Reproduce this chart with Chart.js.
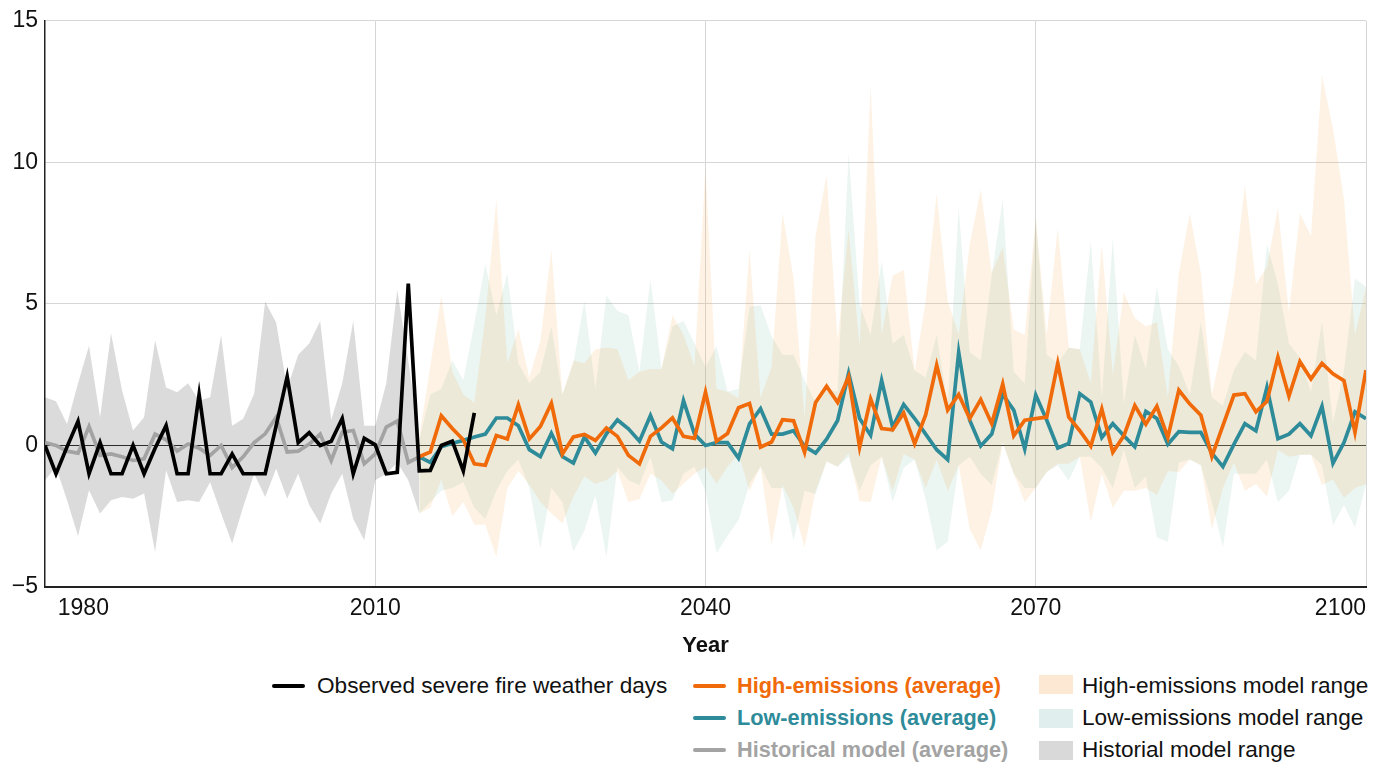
<!DOCTYPE html>
<html><head><meta charset="utf-8">
<script src="https://cdn.jsdelivr.net/npm/chart.js@4.4.1/dist/chart.umd.min.js"></script>
<style>
html,body{margin:0;padding:0;background:#fff;}
#wrap{position:relative;width:1387px;height:765px;font-family:"Liberation Sans",Arial,sans-serif;overflow:hidden;}
#c{position:absolute;left:0;top:0;}
.lg{position:absolute;font-size:22.6px;line-height:26px;white-space:nowrap;color:#111;}
.b{font-weight:bold;font-size:21.7px;}
.ln{position:absolute;height:4px;border-radius:2px;width:33px;}
.sw{position:absolute;width:34px;height:19px;}
</style></head><body>
<div id="wrap">
<canvas id="c" width="1387" height="665"></canvas>
<div class="ln" style="left:272px;top:684px;background:#000;"></div>
<div class="lg" style="left:317px;top:673px;">Observed severe fire weather days</div>
<div class="ln" style="left:693px;top:684px;background:#f06a0a;"></div>
<div class="lg b" style="left:737px;top:673px;color:#f06a0a;">High-emissions (average)</div>
<div class="ln" style="left:693px;top:716px;background:#2e8b9a;"></div>
<div class="lg b" style="left:737px;top:705px;color:#2e8b9a;">Low-emissions (average)</div>
<div class="ln" style="left:693px;top:748px;background:#a3a3a3;"></div>
<div class="lg b" style="left:737px;top:737px;color:#a3a3a3;">Historical model (average)</div>
<div class="sw" style="left:1039px;top:675px;background:#fde9d3;"></div>
<div class="lg" style="left:1082px;top:673px;">High-emissions model range</div>
<div class="sw" style="left:1039px;top:709px;background:#e0efed;"></div>
<div class="lg" style="left:1082px;top:705px;">Low-emissions model range</div>
<div class="sw" style="left:1039px;top:741px;background:#d9d9d9;"></div>
<div class="lg" style="left:1082px;top:737px;">Historial model range</div>
</div>
<script>
// ---- Data ----
const OBS_START = 1980;   // observed 1980-2019
const HIST_START = 1980;  // historical model 1980-2014
const PROJ_START = 2014;  // projections 2014-2100
const X_TICKS = [1980, 2010, 2040, 2070, 2100];
const Y_TICKS = [-5, 0, 5, 10, 15];

const observed = [0, -1, -0.05, 0.85, -1, 0.1, -1, -1, 0, -1,
  -0.1, 0.7, -1, -1, 1.8, -1, -1, -0.3, -1, -1,
  -1, 0.7, 2.43, 0.1, 0.45, 0, 0.15, 0.95, -1, 0.25,
  0.02, -1, -0.95, 5.72, -0.9, -0.88, 0, 0.15, -0.9, 1.15];

const histAvg = [0.1, 0.0, -0.2, -0.27, 0.67, -0.35, -0.3, -0.4, -0.53, -0.47,
  0.4, 0.2, -0.2, 0.05, -0.1, -0.35, 0, -0.78, -0.4, 0.1,
  0.41, 1.0, -0.23, -0.2, 0.05, 0.4, -0.53, 0.47, 0.53, -0.65,
  -0.3, 0.65, 0.86, -0.6, -0.4];
const histUpper = [1.7, 1.56, 0.76, 2.2, 3.52, 1.0, 3.96, 1.94, 0.53, 1.0,
  3.72, 2.05, 1.88, 2.2, 1.58, 1.7, 3.9, 0.7, 0.94, 1.83,
  5.08, 4.34, 2.0, 3.2, 3.6, 4.4, 0.9, 2.2, 4.4, 0.7,
  0.7, 2.2, 5.5, 3.0, 0.2];
const histLower = [-1.23, -0.76, -1.94, -3.2, -1.58, -2.4, -1.94, -1.82, -1.88, -1.7,
  -3.76, -0.88, -2.0, -1.94, -2.0, -1.3, -2.4, -3.46, -2.17, -1.0,
  -1.82, -0.82, -1.88, -1.0, -2.1, -2.76, -1.7, -1.0, -2.6, -3.35,
  -1.23, -1.0, -0.6, -1.23, -2.4];

const highAvg = [-0.4, -0.23, 1.05, 0.6, 0.2, -0.65, -0.7, 0.35, 0.23, 1.44,
  0.23, 0.67, 1.49, -0.3, 0.3, 0.39, 0.18, 0.62, 0.32, -0.35,
  -0.65, 0.32, 0.62, 0.97, 0.32, 0.25, 1.88, 0.15, 0.42, 1.33,
  1.48, -0.06, 0.12, 0.91, 0.87, -0.24, 1.52, 2.09, 1.52, 2.43,
  -0.06, 1.64, 0.6, 0.55, 1.15, 0.06, 1.08, 2.84, 1.25, 1.8,
  0.95, 1.62, 0.77, 2.17, 0.34, 0.89, 0.95, 1.0, 2.9, 1.0,
  0.52, -0.02, 1.29, -0.24, 0.34, 1.41, 0.75, 1.38, 0.28, 1.95,
  1.46, 1.07, -0.39, 0.7, 1.78, 1.83, 1.19, 1.56, 3.12, 1.74,
  2.96, 2.35, 2.9, 2.53, 2.29, 0.46, 2.66];
const lowAvg = [-0.4, -0.6, -0.05, 0.08, 0.18, 0.3, 0.4, 0.97, 0.97, 0.7,
  -0.15, -0.39, 0.43, -0.39, -0.62, 0.3, -0.27, 0.41, 0.9, 0.59,
  0.15, 1.06, 0.12, -0.12, 1.58, 0.4, 0.0, 0.1, 0.1, -0.45,
  0.76, 1.3, 0.4, 0.4, 0.52, -0.03, -0.27, 0.22, 0.88, 2.55,
  0.95, 0.36, 2.3, 0.64, 1.45, 0.95, 0.4, -0.15, -0.5, 3.29,
  0.89, -0.02, 0.4, 1.8, 1.25, -0.12, 1.78, 0.89, -0.09, 0.07,
  1.83, 1.53, 0.28, 0.77, 0.34, -0.05, 1.2, 0.95, 0.04, 0.49,
  0.46, 0.46, -0.27, -0.75, 0.04, 0.77, 0.52, 2.05, 0.24, 0.4,
  0.77, 0.34, 1.38, -0.63, 0.1, 1.19, 0.95];
const highUpper = [0.3, 2.8, 5.3, 2.6, 1.8, 1.5, 4.5, 8.7, 2.9, 4.1,
  2.4, 3.7, 6.9, 1.8, 3.0, 2.9, 3.4, 3.46, 3.4, 2.3,
  2.6, 2.7, 2.7, 4.6, 3.9, 2.8, 9.8, 2.0, 1.9, 1.67,
  6.9, 1.67, 2.77, 8.2, 5.9, 0.95, 7.4, 9.56, 3.7, 7.6,
  3.5, 12.7, 3.9, 6.0, 6.2, 2.65, 5.1, 8.9, 5.1, 3.9,
  7.1, 9.05, 6.1, 7.0, 4.1, 3.9, 8.0, 3.9, 7.7, 3.45,
  3.4, 2.2, 7.1, 2.5, 5.4, 4.5, 4.2, 4.35, 1.7, 6.1,
  8.2, 6.07, 1.8, 3.6, 5.8, 9.2, 5.7, 6.3, 8.4, 4.7,
  8.2, 7.4, 13.07, 11.2, 8.7, 3.9, 5.6];
const highLower = [-2.4, -2.2, -1.2, -2.5, -2.0, -2.8, -2.8, -3.93, -1.5, -0.9,
  -1.4, -2.0, -2.4, -2.75, -1.8, -1.1, -1.35, -1.23, -0.9, -2.0,
  -1.9, -1.0, -1.23, -1.7, -1.35, -1.0, -0.75, -1.35, -0.75, -0.3,
  -1.6, -0.75, -3.5, -1.4, -2.2, -3.6, -1.6, -0.57, -0.75, -0.27,
  -1.97, -2.0, -0.4, -1.6, -0.3, -0.5, -1.5, -0.5, -1.6, -0.7,
  -2.95, -3.7, -2.3, 0.1, -1.0, -2.0, -1.5, -0.94, -0.65, -0.65,
  -0.4, -2.7, -1.0, -2.2, -1.6, -1.6, -1.5, -1.75, -0.9, -0.94,
  -0.5, -0.7, -2.95, -1.5, -0.6, -1.6, -1.36, -1.8, -0.15, -0.4,
  -0.33, -0.33, -1.4, -1.2, -1.85, -1.5, -1.36];
const lowUpper = [0.2, 1.8, 2.0, 3.0, 2.3, 4.3, 6.4, 4.6, 6.07, 2.9,
  2.2, 2.6, 4.2, 1.8, 2.9, 5.1, 2.0, 5.3, 4.75, 4.6,
  2.6, 5.87, 2.7, 4.2, 4.4, 3.6, 2.77, 3.5, 1.9, 2.0,
  4.9, 4.95, 3.86, 3.2, 3.2, 2.3, 1.5, 2.0, 1.9, 10.3,
  5.0, 3.9, 6.5, 3.6, 3.9, 2.65, 2.4, 3.9, 1.4, 8.4,
  3.3, 3.0, 6.0, 8.7, 2.6, 2.2, 8.0, 3.2, 2.9, 3.45,
  3.4, 7.2, 1.7, 7.3, 1.5, 3.9, 2.7, 5.6, 3.4, 2.8,
  1.8, 4.36, 1.7, 1.4, 2.66, 3.3, 3.0, 7.1, 5.7, 3.6,
  3.1, 1.9, 4.36, 0.8, 2.66, 5.9, 5.6];
const lowLower = [-2.4, -2.0, -1.6, -1.5, -1.3, -2.2, -2.6, -1.6, -0.9, -0.5,
  -1.5, -3.64, -1.5, -2.0, -3.75, -3.0, -1.76, -3.93, -0.76, -1.23,
  -1.4, -0.4, -2.0, -1.94, -1.0, -0.75, -1.6, -3.8, -3.2, -2.63,
  -1.35, -0.75, -1.5, -1.5, -3.36, -1.6, -1.72, -0.57, -0.75, -0.4,
  -1.6, -0.7, -0.4, -2.0, -0.8, -0.5, -1.9, -3.7, -3.4, -0.7,
  -0.4, -1.0, -1.4, 0.1, -1.0, -1.5, -1.5, -0.94, -0.7, -1.24,
  -0.4, -0.4, -0.8, -1.5, -0.15, -1.5, -1.1, -3.25, -3.4, -0.6,
  -0.5, -0.7, -2.0, -3.6, -1.0, -1.0, -1.0, -0.5, -2.0, -1.6,
  -0.33, -0.33, -0.7, -2.83, -2.1, -2.9, -1.36];

// ---- Build ----
const pts = (start, arr) => arr.map((v, i) => ({ x: start + i, y: v }));
const lineDs = (data, color) => ({ data, borderColor: color, borderWidth: 3.7, pointRadius: 0,
  fill: false, tension: 0, borderJoinStyle: 'miter', borderCapStyle: 'butt' });
const bandTop = (data, color) => ({ data, borderWidth: 0, pointRadius: 0, fill: '+1', backgroundColor: color, tension: 0 });
const bandBot = (data) => ({ data, borderWidth: 0, pointRadius: 0, fill: false, tension: 0 });

const FONT = '"Liberation Sans", Arial, sans-serif';
const GRID = '#d6d6d6';

new Chart(document.getElementById('c'), {
  type: 'line',
  data: { datasets: [
    lineDs(pts(OBS_START, observed), '#000000'),
    lineDs(pts(PROJ_START, highAvg), '#f06a0a'),
    lineDs(pts(PROJ_START, lowAvg), '#2e8b9a'),
    lineDs(pts(HIST_START, histAvg), '#a3a3a3'),
    bandTop(pts(PROJ_START, highUpper), 'rgba(242,168,75,0.15)'),
    bandBot(pts(PROJ_START, highLower)),
    bandTop(pts(PROJ_START, lowUpper), 'rgba(88,172,138,0.12)'),
    bandBot(pts(PROJ_START, lowLower)),
    bandTop(pts(HIST_START, histUpper), 'rgba(0,0,0,0.14)'),
    bandBot(pts(HIST_START, histLower))
  ]},
  options: {
    responsive: false, animation: false, devicePixelRatio: 1,
    layout: { padding: { top: 20, right: 21, left: 0, bottom: 0 } },
    plugins: { legend: { display: false }, tooltip: { enabled: false } },
    scales: {
      x: {
        type: 'linear', min: X_TICKS[0], max: X_TICKS[X_TICKS.length - 1],
        afterBuildTicks: (s) => { s.ticks = X_TICKS.map(v => ({ value: v })); },
        afterFit: (s) => { s.height = 78; },
        ticks: { callback: (v) => (v === X_TICKS[0] ? '  ' : '') + String(v), align: 'inner', padding: 8,
          maxRotation: 0, autoSkip: false, color: '#111', font: { family: FONT, size: 23 } },
        grid: { drawTicks: false, lineWidth: 1,
          color: (c) => (c.tick && c.tick.value === X_TICKS[0]) ? 'rgba(0,0,0,0)' : GRID },
        border: { display: true, color: '#222', width: 2 },
        title: { display: true, text: 'Year', color: '#111', font: { family: FONT, size: 22, weight: 'bold' },
          padding: { top: 0, bottom: 6 } }
      },
      y: {
        type: 'linear', min: Y_TICKS[0], max: Y_TICKS[Y_TICKS.length - 1],
        afterBuildTicks: (s) => { s.ticks = Y_TICKS.map(v => ({ value: v })); },
        afterFit: (s) => { s.width = 45; },
        ticks: { callback: (v) => v < 0 ? '\u2212' + Math.abs(v) : String(v), padding: 7,
          color: '#111', font: { family: FONT, size: 23 } },
        grid: { drawTicks: false,
          color: (c) => (c.tick && c.tick.value === 0) ? '#333' : GRID,
          lineWidth: 1 },
        border: { display: true, color: '#222', width: 1.5 }
      }
    }
  }
});
</script>
</body></html>
